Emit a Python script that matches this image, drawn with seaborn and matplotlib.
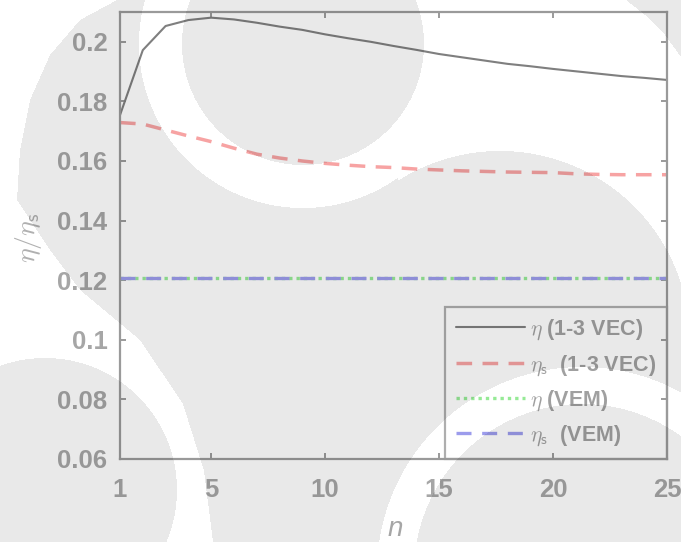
import numpy as np
import matplotlib
matplotlib.use("Agg")
import matplotlib.pyplot as plt
from matplotlib.path import Path
from matplotlib.ticker import FixedLocator, FixedFormatter
import seaborn as sns

# ---------------- data ----------------
n = list(range(1, 26))
eta_vec = [0.1754, 0.1972, 0.2053, 0.2073, 0.2081, 0.2075, 0.2064, 0.2051, 0.2040, 0.2025,
           0.2012, 0.2000, 0.1986, 0.1973, 0.1959, 0.1948, 0.1937, 0.1926, 0.1918, 0.1909,
           0.1901, 0.1893, 0.1885, 0.1879, 0.1872]
eta_s_vec = [0.1729, 0.1724, 0.1704, 0.1684, 0.1665, 0.1643, 0.1623, 0.1610, 0.1600, 0.1592,
             0.1586, 0.1581, 0.1578, 0.1573, 0.1570, 0.1567, 0.1565, 0.1563, 0.1562, 0.1561,
             0.1557, 0.1555, 0.1554, 0.1554, 0.1554]
eta_vem = [0.1208] * 25
eta_s_vem = [0.1208] * 25

labels = [r"$\eta$ (1-3 VEC)", r"$\eta_\mathsf{s}$  (1-3 VEC)",
          r"$\eta$ (VEM)", r"$\eta_\mathsf{s}$  (VEM)"]
xticks = [1, 5, 10, 15, 20, 25]
xtick_labels = ["1", "5", "10", "15", "20", "25"]
yticks = [0.06, 0.08, 0.10, 0.12, 0.14, 0.16, 0.18, 0.20]
ytick_labels = ["0.06", "0.08", "0.1", "0.12", "0.14", "0.16", "0.18", "0.2"]

# ---------------- style ----------------
sns.set_style("white")
plt.rcParams["font.family"] = ["Liberation Sans", "DejaVu Sans"]
plt.rcParams["mathtext.fontset"] = "cm"

TXT = "#a6a6a6"
AXC = "#9a9a9a"

fig = plt.figure(figsize=(6.81, 5.42), dpi=100)
fig.patch.set_facecolor("white")
ax = fig.add_axes([120 / 681, 1 - 459 / 542, 547 / 681, 447 / 542])
ax.set_facecolor("none")

series = [
    (eta_vec, "#7f7f7f", 1.5, None),
    (eta_s_vec, "#f7a3a3", 2.5, (4.5, 3)),
    (eta_vem, "#96ea96", 2.4, (1, 1.2)),
    (eta_s_vem, "#9c9cec", 2.4, (4.5, 3.2)),
]
handles = []
for (vals, col, lw, dash), lab in zip(series, labels):
    sns.lineplot(x=n, y=vals, ax=ax, color=col, linewidth=lw, label=lab)
    line = ax.lines[-1]
    if dash is not None:
        line.set_dashes(dash)
        line.set_dash_capstyle("butt")
    handles.append(line)

ax.set_xlim(1, 25)
ax.set_ylim(0.06, 0.21)
ax.xaxis.set_major_locator(FixedLocator(xticks))
ax.xaxis.set_major_formatter(FixedFormatter(xtick_labels))
ax.yaxis.set_major_locator(FixedLocator(yticks))
ax.yaxis.set_major_formatter(FixedFormatter(ytick_labels))

for s in ax.spines.values():
    s.set_visible(True)
    s.set_color(AXC)
    s.set_linewidth(1.6)

ax.tick_params(axis="both", which="major", direction="in", length=4, width=1.4,
               color=AXC, labelcolor=TXT, labelsize=18.5, top=True, right=True,
               bottom=True, left=True)
ax.tick_params(axis="y", pad=9)
ax.tick_params(axis="x", pad=14)
for lbl in ax.get_xticklabels() + ax.get_yticklabels():
    lbl.set_fontweight("bold")

ax.set_xlabel("n", fontsize=20, fontstyle="italic", color=TXT)
ax.xaxis.set_label_coords(0.503, -0.127)
ax.set_ylabel("")
fig.text(29 / 681, 1 - 238 / 542, r"$\eta/\eta_\mathsf{s}$", rotation=90,
         ha="center", va="center", fontsize=20, color="#b0b0b0")

leg = ax.legend(handles=handles, labels=labels, loc="lower right",
                bbox_to_anchor=(1, 0), borderaxespad=0, frameon=True,
                fancybox=False, facecolor="none", edgecolor=AXC,
                handlelength=3.2, handletextpad=0.25, labelspacing=0.5,
                borderpad=0.5, prop={"family": "Liberation Sans",
                                     "weight": "bold", "size": 15.5})
leg.get_frame().set_linewidth(1.6)
for t in leg.get_texts():
    t.set_color("#a0a0a0")

# ---------------- watermark overlay (decoration) ----------------
W, H = 681, 542
yy, xx = np.mgrid[0:H, 0:W] + 0.5
pts = np.c_[xx.ravel(), yy.ravel()]


def poly(p):
    return Path(p).contains_points(pts).reshape(H, W)


def disk(cx, cy, r):
    return (xx - cx) ** 2 + (yy - cy) ** 2 <= r * r


gray = np.ones((H, W), bool)
gray[poly([(0, 0), (117, 0), (80, 20), (50, 55), (30, 100), (20, 150), (17, 200),
           (50, 250), (80, 290), (140, 340), (183, 404), (204, 471), (213, 542),
           (0, 542)])] = False
gray[disk(45, 490, 132)] = True
gray[disk(303, 44, 164)] = False
gray[poly([(303, 0), (626, 0), (645, 15), (665, 35), (681, 57), (681, 300),
           (430, 300), (398, 178), (303, 44)])] = False
gray[disk(500, 341, 190)] = True
gray[disk(303, 44, 121)] = True
gray[disk(582, 572, 205)] = False
gray[disk(582, 572, 168)] = True

rgba = np.zeros((H, W, 4))
rgba[..., 3] = gray * 0.088
fig.figimage(rgba, xo=0, yo=0, origin="upper", zorder=10)

fig.savefig("out.png", dpi=100)
